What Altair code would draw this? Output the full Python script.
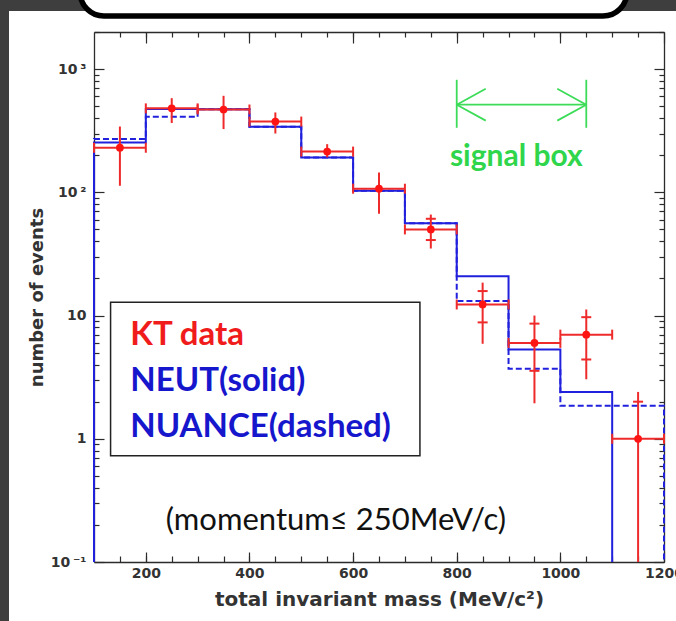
import altair as alt
import pandas as pd

# ---- histogram binning, total invariant mass (MeV/c^2) ----
EDGES = [100, 200, 300, 400, 500, 600, 700, 800, 900, 1000, 1100, 1200]

# ---- Monte Carlo expectations per bin ----
NEUT = [254, 475, 472, 340, 192, 103, 56, 20.8, 5.3, 2.4, 0]
NUANCE = [271, 410, 472, 340, 192, 103, 56, 13.1, 3.7, 1.85, 1.85]

# ---- KT data points with total error range ----
KT_MASS = [150, 250, 350, 450, 550, 650, 750, 850, 950, 1050, 1150]
KT_COUNT = [230, 480, 470, 375, 214, 107, 50, 12.3, 6.0, 7.0, 1.0]
KT_LOW = [113, 365, 326, 300, 192, 67, 35, 5.9, 1.94, 3.04, 0]
KT_HIGH = [342, 581, 607, 445, 246, 145, 66, 18.5, 10.0, 11.2, 2.4]

# inner error marks on the high-mass points
INNER_MASS = [750, 750, 850, 850, 950, 950, 1050, 1050, 1150]
INNER_VALUE = [41, 61, 8.8, 15.8, 3.56, 8.6, 4.4, 9.7, 2.0]

# signal region
SIGNAL_MASS = [800, 1050]

# ---- axis ranges ----
Y_MIN, Y_MAX = 0.1, 2000
X_MAJOR = [200, 400, 600, 800, 1000, 1200]
X_MINOR = list(range(150, 1200, 50))
Y_MAJOR = [0.1, 1, 10, 100, 1000]
Y_MINOR = [round(m * 10.0 ** e, 6) for e in range(-1, 4) for m in range(2, 10)
           if m * 10.0 ** e <= Y_MAX]

# ---- annotation placement (data coordinates) ----
SIGNAL_LEVEL = 514
SIGNAL_SPAN = [334, 819]
SIGNAL_LABEL_AT = (915, 164)
LEGEND_BOX = (132, 729, 0.728, 12.8)
LEGEND_X = 170
LEGEND_Y = [5.8, 2.42, 1.04]
MOMENTUM_AT = (567, 0.182)

# ---- styles ----
RED = "#ee2a2a"
DOT = "#ff1414"
BLUE = "#2020dd"
GREEN = "#3ddc58"
GREEN_TEXT = "#2fd64c"
RED_TEXT = "#f01c1c"
BLUE_TEXT = "#1616cc"
INK = "#2b2b2b"
SLIDE = "#3e3e3e"
W, H = 570, 530

XS = alt.Scale(domain=[EDGES[0], EDGES[-1]], nice=False, zero=False)
YS = alt.Scale(type="log", domain=[Y_MIN, Y_MAX], nice=False)


def X(field, axis=None):
    return alt.X(field, type="quantitative", scale=XS, axis=axis)


def Y(field, axis=None):
    return alt.Y(field, type="quantitative", scale=YS, axis=axis)


LABEL_STYLE = dict(labelFont="DejaVu Sans", labelFontSize=14, labelFontWeight="bold",
                   labelColor="#333333", labelOverlap=False)
TITLE_STYLE = dict(titleFont="DejaVu Sans", titleFontWeight="bold", titleColor="#333333")


def tick_axis(orient, values, length, **extra):
    # inward-pointing ticks: the axis is pulled inside the frame by its tick length
    opts = dict(orient=orient, values=values, tickSize=length, offset=-length,
                tickColor=INK, tickWidth=1.2, domain=False, grid=False,
                labels=False, title=None)
    opts.update(extra)
    return alt.Axis(**opts)


def frame_axis(orient):
    return alt.Axis(orient=orient, domain=True, domainColor=INK, domainWidth=1.3,
                    ticks=False, labels=False, grid=False, title=None)


Y_LABELS = ("datum.value >= 500 ? '10\u2009\u00b3' : datum.value >= 50 ? '10\u2009\u00b2' : "
            "datum.value >= 5 ? '10\u2007\u2009' : datum.value >= 0.5 ? '1\u2007\u2009' : "
            "'10\u2009\u207b\u00b9'")

bottom_major = tick_axis("bottom", X_MAJOR, 10, labels=True, format="d", labelPadding=4,
                         labelFlush=False, title="total invariant mass (MeV/c\u00b2)",
                         titleFontSize=20, titlePadding=9, **LABEL_STYLE, **TITLE_STYLE)
bottom_minor = tick_axis("bottom", X_MINOR, 6)
top_major = tick_axis("top", X_MAJOR, 11)
top_minor = tick_axis("top", X_MINOR, 5)
left_major = tick_axis("left", Y_MAJOR, 10, labels=True, labelExpr=Y_LABELS, labelPadding=8,
                       title="number of events", titleFontSize=18, titlePadding=4,
                       **LABEL_STYLE, **TITLE_STYLE)
left_minor = tick_axis("left", Y_MINOR, 5)
right_major = tick_axis("right", Y_MAJOR, 10)
right_minor = tick_axis("right", Y_MINOR, 5)


def step_rows(counts):
    """Outline of a histogram as step-after points, starting and ending on the floor."""
    pts = [(EDGES[0], Y_MIN)]
    pts += [(e, max(c, Y_MIN)) for e, c in zip(EDGES[:-1], counts)]
    pts.append((EDGES[-1], Y_MIN))
    while len(pts) > 2 and pts[-1][1] == Y_MIN and pts[-2][1] == Y_MIN:
        pts.pop()
    return pd.DataFrame({"mass": [p[0] for p in pts], "events": [p[1] for p in pts],
                         "seq": list(range(len(pts)))})


kt = pd.DataFrame({
    "mass": KT_MASS, "count": KT_COUNT,
    "low": [max(v, Y_MIN) for v in KT_LOW], "high": KT_HIGH,
    "left": EDGES[:-1], "right": EDGES[1:],
})
caps = pd.DataFrame({"edge": EDGES[:-1] + EDGES[1:], "count": KT_COUNT + KT_COUNT})
inner = pd.DataFrame({"mass": INNER_MASS, "events": INNER_VALUE})

one = pd.DataFrame({"k": [0]})

# ---- slide decoration around the plot ----
left_strip = alt.Chart(one).mark_rect(fill=SLIDE).encode(
    x=alt.value(-94), x2=alt.value(-85), y=alt.value(-32), y2=alt.value(H + 59))
top_strip = alt.Chart(one).mark_rect(fill=SLIDE).encode(
    x=alt.value(-94), x2=alt.value(W + 12), y=alt.value(-32), y2=alt.value(-21))
top_box = alt.Chart(one).mark_rect(fill="white", stroke="black", strokeWidth=5.5,
                                   cornerRadius=24).encode(
    x=alt.value(-14), x2=alt.value(533), y=alt.value(-80), y2=alt.value(-16))

# ---- legend panel ----
legend_box = alt.Chart(pd.DataFrame({
    "x": [LEGEND_BOX[0]], "x2": [LEGEND_BOX[1]], "y": [LEGEND_BOX[2]], "y2": [LEGEND_BOX[3]]
})).mark_rect(fill="white", stroke="#222222", strokeWidth=1.5).encode(
    x=X("x"), x2="x2", y=Y("y"), y2="y2")

legend_text = alt.Chart(pd.DataFrame({
    "label": ["KT data", "NEUT(solid)", "NUANCE(dashed)"],
    "mass": [LEGEND_X] * 3, "events": LEGEND_Y,
    "color": [RED_TEXT, BLUE_TEXT, BLUE_TEXT],
})).mark_text(align="left", baseline="alphabetic", font="Lato", fontWeight="bold",
              fontSize=33).encode(
    x=X("mass"), y=Y("events"), text="label:N", color=alt.Color("color:N", scale=None))

# ---- histograms ----
neut_line = alt.Chart(step_rows(NEUT)).mark_line(
    interpolate="step-after", color=BLUE, strokeWidth=2).encode(
    x=X("mass", bottom_major), y=Y("events", left_major), order="seq:Q")
nuance_line = alt.Chart(step_rows(NUANCE)).mark_line(
    interpolate="step-after", color=BLUE, strokeWidth=2, strokeDash=[6, 3]).encode(
    x=X("mass", bottom_minor), y=Y("events", left_minor), order="seq:Q")

# ---- data points ----
bin_bars = alt.Chart(kt).mark_rule(color=RED, strokeWidth=2).encode(
    x=X("left", top_major), x2="right", y=Y("count", right_major))
err_bars = alt.Chart(kt).mark_rule(color=RED, strokeWidth=2).encode(
    x=X("mass", top_minor), y=Y("low", right_minor), y2="high")
bin_caps = alt.Chart(caps).mark_tick(orient="vertical", size=10, thickness=2, color=RED,
                                     opacity=1).encode(
    x=X("edge", frame_axis("bottom")), y=Y("count", frame_axis("left")))
inner_marks = alt.Chart(inner).mark_tick(orient="horizontal", size=10, thickness=2, color=RED,
                                         opacity=1).encode(
    x=X("mass"), y=Y("events"))
dots = alt.Chart(kt).mark_circle(size=60, color=DOT, opacity=1).encode(
    x=X("mass", frame_axis("top")), y=Y("count", frame_axis("right")))

# ---- signal box marker ----
sig_bars = alt.Chart(pd.DataFrame({
    "mass": SIGNAL_MASS, "low": [SIGNAL_SPAN[0]] * 2, "high": [SIGNAL_SPAN[1]] * 2
})).mark_rule(color=GREEN, strokeWidth=1.8).encode(x=X("mass"), y=Y("low"), y2="high")
sig_line = alt.Chart(pd.DataFrame({
    "a": [SIGNAL_MASS[0]], "b": [SIGNAL_MASS[1]], "level": [SIGNAL_LEVEL]
})).mark_rule(color=GREEN, strokeWidth=1.8).encode(x=X("a"), x2="b", y=Y("level"))
LEFT_HEAD = "M0,0L2,-1.1M0,0L2,1.1"
RIGHT_HEAD = "M0,0L-2,-1.1M0,0L-2,1.1"
sig_heads = alt.Chart(pd.DataFrame({
    "mass": SIGNAL_MASS, "level": [SIGNAL_LEVEL] * 2, "head": ["left", "right"]
})).mark_point(filled=False, size=841, strokeWidth=1.8, color=GREEN, opacity=1).encode(
    x=X("mass"), y=Y("level"),
    shape=alt.Shape("head:N", scale=alt.Scale(domain=["left", "right"],
                                              range=[LEFT_HEAD, RIGHT_HEAD]), legend=None))
sig_text = alt.Chart(pd.DataFrame({
    "mass": [SIGNAL_LABEL_AT[0]], "events": [SIGNAL_LABEL_AT[1]], "t": ["signal box"]
})).mark_text(align="center", baseline="alphabetic", font="Lato", fontWeight="bold",
              fontSize=30, color=GREEN_TEXT).encode(x=X("mass"), y=Y("events"), text="t:N")

momentum_text = alt.Chart(pd.DataFrame({
    "mass": [MOMENTUM_AT[0]], "events": [MOMENTUM_AT[1]], "t": ["(momentum\u2264 250MeV/c)"]
})).mark_text(align="center", baseline="alphabetic", font="Lato", fontSize=31,
              color="#111111").encode(x=X("mass"), y=Y("events"), text="t:N")

chart = alt.layer(
    left_strip, top_strip, top_box,
    legend_box, legend_text,
    neut_line, nuance_line,
    bin_bars, err_bars, bin_caps, inner_marks, dots,
    sig_bars, sig_line, sig_heads, sig_text,
    momentum_text,
).resolve_axis(
    x="independent", y="independent"
).properties(
    width=W, height=H, background="white",
    autosize=alt.AutoSizeParams(type="none"),
    padding={"left": 94, "top": 32, "right": 12, "bottom": 59},
).configure_view(stroke=None)

chart.save("out.html", embed_options={"renderer": "svg", "actions": False})
